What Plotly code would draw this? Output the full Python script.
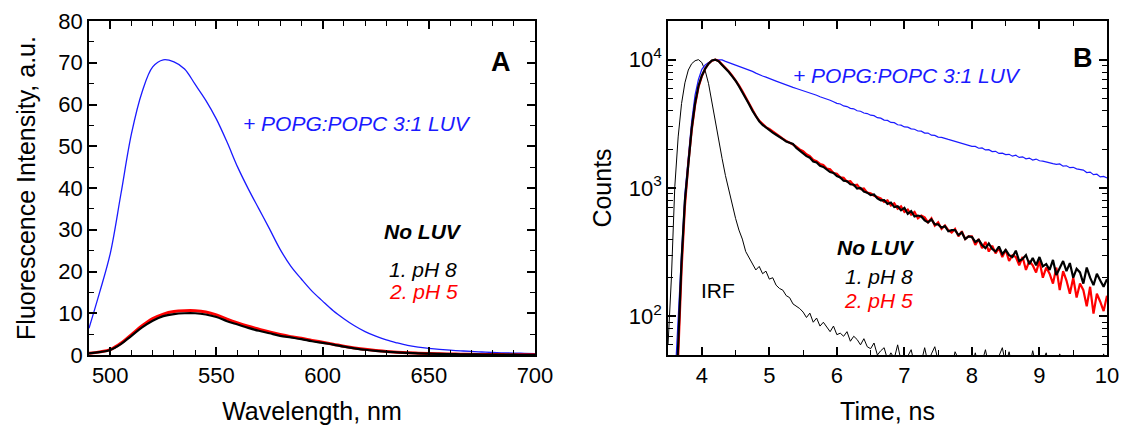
import plotly.graph_objects as go

# ---- Panel A: steady-state emission spectra ----
wavelength_nm = list(range(490, 701, 5))
spec_luv = [6.4, 15, 24.3, 38.5, 53, 63, 69, 70.7, 70.2, 68.5, 64.8, 61, 56.5, 51,
            45, 39.8, 35, 30.2, 25.3, 21.3, 18.2, 15.3, 12.9, 10.6, 8.7, 7, 5.6, 4.5,
            3.6, 2.9, 2.3, 1.9, 1.6, 1.35, 1.15, 1.0, 0.85, 0.72, 0.6, 0.52, 0.45,
            0.4, 0.35]
spec_ph8 = [0.4, 0.7, 1.2, 2.6, 4.6, 6.6, 8.2, 9.3, 9.8, 10.0, 10.0, 9.7, 9.1, 8.1,
            7.3, 6.5, 5.8, 5.2, 4.6, 4.2, 3.8, 3.3, 2.9, 2.5, 2.0, 1.6, 1.25, 1.0,
            0.8, 0.62, 0.5, 0.4, 0.33, 0.27, 0.22, 0.18, 0.15, 0.12, 0.1, 0.08,
            0.07, 0.06, 0.05]
spec_ph5 = [0.4, 0.75, 1.3, 2.8, 4.9, 7.0, 8.7, 9.8, 10.4, 10.6, 10.6, 10.3, 9.6, 8.6,
            7.7, 6.9, 6.2, 5.5, 4.9, 4.4, 4.0, 3.5, 3.05, 2.6, 2.1, 1.7, 1.35, 1.08,
            0.85, 0.67, 0.53, 0.43, 0.35, 0.29, 0.24, 0.19, 0.16, 0.13, 0.11, 0.09,
            0.07, 0.06, 0.05]

# ---- Panel B: fluorescence decays (TCSPC), 0.05 ns channels ----
time_ns = [round(3.5 + 0.05 * i, 2) for i in range(131)]
decay_luv = [5, 10, 30, 110, 310, 900, 1860, 3300, 5300, 7000,
             8400, 9100, 9500, 9800, 9950, 10000, 9950, 9700, 9500, 9250,
             9050, 8900, 8650, 8500, 8300, 8100, 7850, 7700, 7450, 7300,
             7100, 6950, 6800, 6650, 6480, 6350, 6230, 6080, 5960, 5850,
             5750, 5620, 5520, 5380, 5280, 5140, 5050, 4920, 4830, 4700,
             4560, 4510, 4360, 4310, 4170, 4140, 4000, 3960, 3840, 3800,
             3690, 3660, 3530, 3500, 3380, 3360, 3240, 3230, 3110, 3090,
             2990, 2980, 2890, 2870, 2780, 2770, 2680, 2680, 2580, 2570,
             2490, 2480, 2420, 2390, 2350, 2310, 2270, 2240, 2190, 2170,
             2110, 2110, 2040, 2050, 1980, 1990, 1920, 1930, 1860, 1870,
             1820, 1830, 1770, 1800, 1730, 1750, 1690, 1710, 1650, 1680,
             1630, 1620, 1590, 1580, 1550, 1530, 1540, 1480, 1490, 1440,
             1450, 1410, 1390, 1380, 1320, 1330, 1270, 1280, 1220, 1230,
             1200]
decay_ph8 = [1, 3, 15, 60, 270, 800, 1640, 2900, 4550, 6200,
             7500, 8500, 9300, 9850, 10000, 9700, 9100, 8600, 8000, 7400,
             6850, 6200, 5600, 5000, 4500, 4000, 3600, 3300, 3100, 2950,
             2850, 2700, 2600, 2480, 2400, 2300, 2240, 2200, 2050, 1950,
             1880, 1770, 1720, 1610, 1580, 1490, 1460, 1400, 1330, 1310,
             1240, 1210, 1140, 1130, 1070, 1060, 990, 1000, 940, 920,
             880, 890, 830, 800, 805, 750, 770, 710, 720, 670,
             700, 630, 660, 600, 610, 600, 560, 540, 570, 520,
             520, 490, 505, 460, 470, 470, 430, 450, 400, 420,
             415, 380, 395, 360, 340, 370, 335, 320, 350, 305,
             330, 300, 290, 325, 270, 280, 300, 255, 285, 250,
             290, 245, 255, 230, 275, 210, 240, 270, 225, 260,
             200, 235, 220, 180, 240, 200, 175, 215, 190, 170,
             195]
decay_ph5 = [1, 2, 10, 45, 230, 720, 1550, 2800, 4400, 6100,
             7400, 8500, 9300, 9800, 10000, 9750, 9200, 8700, 8100, 7500,
             6900, 6300, 5700, 5100, 4550, 4050, 3650, 3350, 3150, 2980,
             2880, 2750, 2620, 2520, 2420, 2330, 2270, 2180, 2100, 2000,
             1940, 1830, 1770, 1660, 1620, 1540, 1510, 1420, 1400, 1310,
             1290, 1210, 1200, 1120, 1130, 1050, 1060, 980, 990, 920,
             910, 870, 850, 830, 780, 800, 730, 760, 690, 720,
             650, 680, 620, 650, 580, 610, 590, 540, 580, 510,
             540, 480, 510, 470, 450, 480, 420, 460, 400, 420,
             420, 360, 400, 340, 380, 320, 355, 310, 340, 290,
             330, 270, 300, 290, 250, 290, 230, 270, 250, 220,
             270, 200, 240, 215, 180, 240, 160, 225, 190, 150,
             200, 140, 180, 160, 120, 170, 105, 150, 130, 110,
             145]
decay_irf = [60, 200, 1020, 2500, 4550, 6600, 8300, 9300, 9800, 10000,
             9500, 8200, 6500, 4600, 3200, 2300, 1700, 1250, 950, 740,
             580, 470, 400, 320, 285, 260, 230, 245, 215, 225,
             195, 200, 175, 165, 160, 145, 140, 125, 120, 115,
             108, 98, 106, 90, 97, 84, 90, 82, 76, 84,
             72, 74, 70, 76, 64, 70, 66, 60, 67, 58,
             56, 62, 50, 54, 57, 46, 52, 47, 60, 45,
             44, 49, 55, 42, 47, 44, 57, 43, 51, 58,
             45, 42, 50, 44, 40, 53, 46, 41, 48, 43,
             41, 52, 40, 44, 55, 41, 46, 40, 49, 57,
             42, 53, 40, 45, 39, 43, 50, 40, 54, 41,
             40, 46, 52, 39, 44, 40, 51, 42, 39, 47,
             43, 40, 45, 39, 41, 49, 40, 43, 39, 51,
             41]

BLUE = "#1a1aff"
RED = "#ff0000"
BLACK = "#000000"
FONT = "Liberation Sans, Arial, sans-serif"

fig = go.Figure()

# Panel A traces
fig.add_trace(go.Scatter(x=wavelength_nm, y=spec_luv, mode="lines", line_shape="spline",
                         line=dict(color=BLUE, width=1.3), xaxis="x", yaxis="y"))
fig.add_trace(go.Scatter(x=wavelength_nm, y=spec_ph5, mode="lines", line_shape="spline",
                         line=dict(color=RED, width=3), xaxis="x", yaxis="y"))
fig.add_trace(go.Scatter(x=wavelength_nm, y=spec_ph8, mode="lines", line_shape="spline",
                         line=dict(color=BLACK, width=2.2), xaxis="x", yaxis="y"))

# Panel B traces
fig.add_trace(go.Scatter(x=time_ns, y=decay_irf, mode="lines",
                         line=dict(color=BLACK, width=1), xaxis="x2", yaxis="y2"))
fig.add_trace(go.Scatter(x=time_ns, y=decay_luv, mode="lines",
                         line=dict(color=BLUE, width=1.2), xaxis="x2", yaxis="y2"))
fig.add_trace(go.Scatter(x=time_ns, y=decay_ph5, mode="lines",
                         line=dict(color=RED, width=2.2), xaxis="x2", yaxis="y2"))
fig.add_trace(go.Scatter(x=time_ns, y=decay_ph8, mode="lines",
                         line=dict(color=BLACK, width=2.2), xaxis="x2", yaxis="y2"))

axis_common = dict(showline=True, linecolor="black", linewidth=1.5, mirror="ticks",
                   ticks="inside", ticklen=8, tickwidth=1.5, tickcolor="black",
                   showgrid=False, zeroline=False, automargin=False,
                   tickfont=dict(family=FONT, size=22, color="black"),
                   title_font=dict(family=FONT, size=25, color="black"))

minor_log = [k * 10 ** e for e in range(1, 5) for k in range(2, 10)]

fig.update_layout(
    width=1130, height=425,
    margin=dict(l=89, r=23, t=21, b=70),
    paper_bgcolor="white", plot_bgcolor="white",
    showlegend=False,
    xaxis=dict(axis_common, domain=[0, 0.4381], range=[490, 700],
               tickvals=[500, 550, 600, 650, 700],
               minor=dict(ticks="inside", ticklen=5, tickwidth=1.2, tickcolor="black", dtick=10, tick0=490),
               title=dict(text="Wavelength, nm", standoff=16)),
    yaxis=dict(axis_common, range=[0, 80], dtick=10, anchor="x",
               minor=dict(ticks="inside", ticklen=5, tickwidth=1.2, tickcolor="black", dtick=5),
               title=dict(text="Fluorescence Intensity, a.u.", standoff=16)),
    xaxis2=dict(axis_common, domain=[0.5688, 1], range=[3.5, 10], anchor="y2",
                tickvals=[4, 5, 6, 7, 8, 9, 10],
                minor=dict(ticks="inside", ticklen=5, tickwidth=1.2, tickcolor="black", dtick=0.5, tick0=3.5),
                title=dict(text="Time, ns", standoff=16)),
    yaxis2=dict(axis_common, type="log", range=[1.699, 4.301], anchor="x2",
                tickvals=[100, 1000, 10000],
                ticktext=["10<sup>2</sup>", "10<sup>3</sup>", "10<sup>4</sup>"],
                minor=dict(ticks="inside", ticklen=5, tickwidth=1.2, tickcolor="black",
                           tickmode="array", tickvals=minor_log),
                title=dict(text="Counts", standoff=10)),
)

def note(text, x, y, xref, yref, color="black", size=21, italic=True, bold=False):
    t = text
    if bold:
        t = "<b>" + t + "</b>"
    if italic:
        t = "<i>" + t + "</i>"
    fig.add_annotation(text=t, x=x, y=y, xref=xref, yref=yref, showarrow=False,
                       font=dict(family=FONT, size=size, color=color),
                       xanchor="center", yanchor="middle")

# Panel A labels
note("+ POPG:POPC 3:1 LUV", 616, 55.5, "x", "y", color=BLUE)
note("No LUV", 647.5, 29.7, "x", "y", bold=True)
note("1. pH 8", 647.5, 20.6, "x", "y")
note("2. pH 5", 647.5, 15.1, "x", "y", color=RED)
note("A", 684, 70.1, "x", "y", size=27, italic=False, bold=True)

# Panel B labels
note("+ POPG:POPC 3:1 LUV", 7.04, 3.878, "x2", "y2", color=BLUE)
note("No LUV", 6.58, 2.54, "x2", "y2", bold=True)
note("1. pH 8", 6.63, 2.314, "x2", "y2")
note("2. pH 5", 6.62, 2.12, "x2", "y2", color=RED)
note("IRF", 4.24, 2.205, "x2", "y2", italic=False)
note("B", 9.64, 4.011, "x2", "y2", size=27, italic=False, bold=True)

fig.write_html("out.html")
